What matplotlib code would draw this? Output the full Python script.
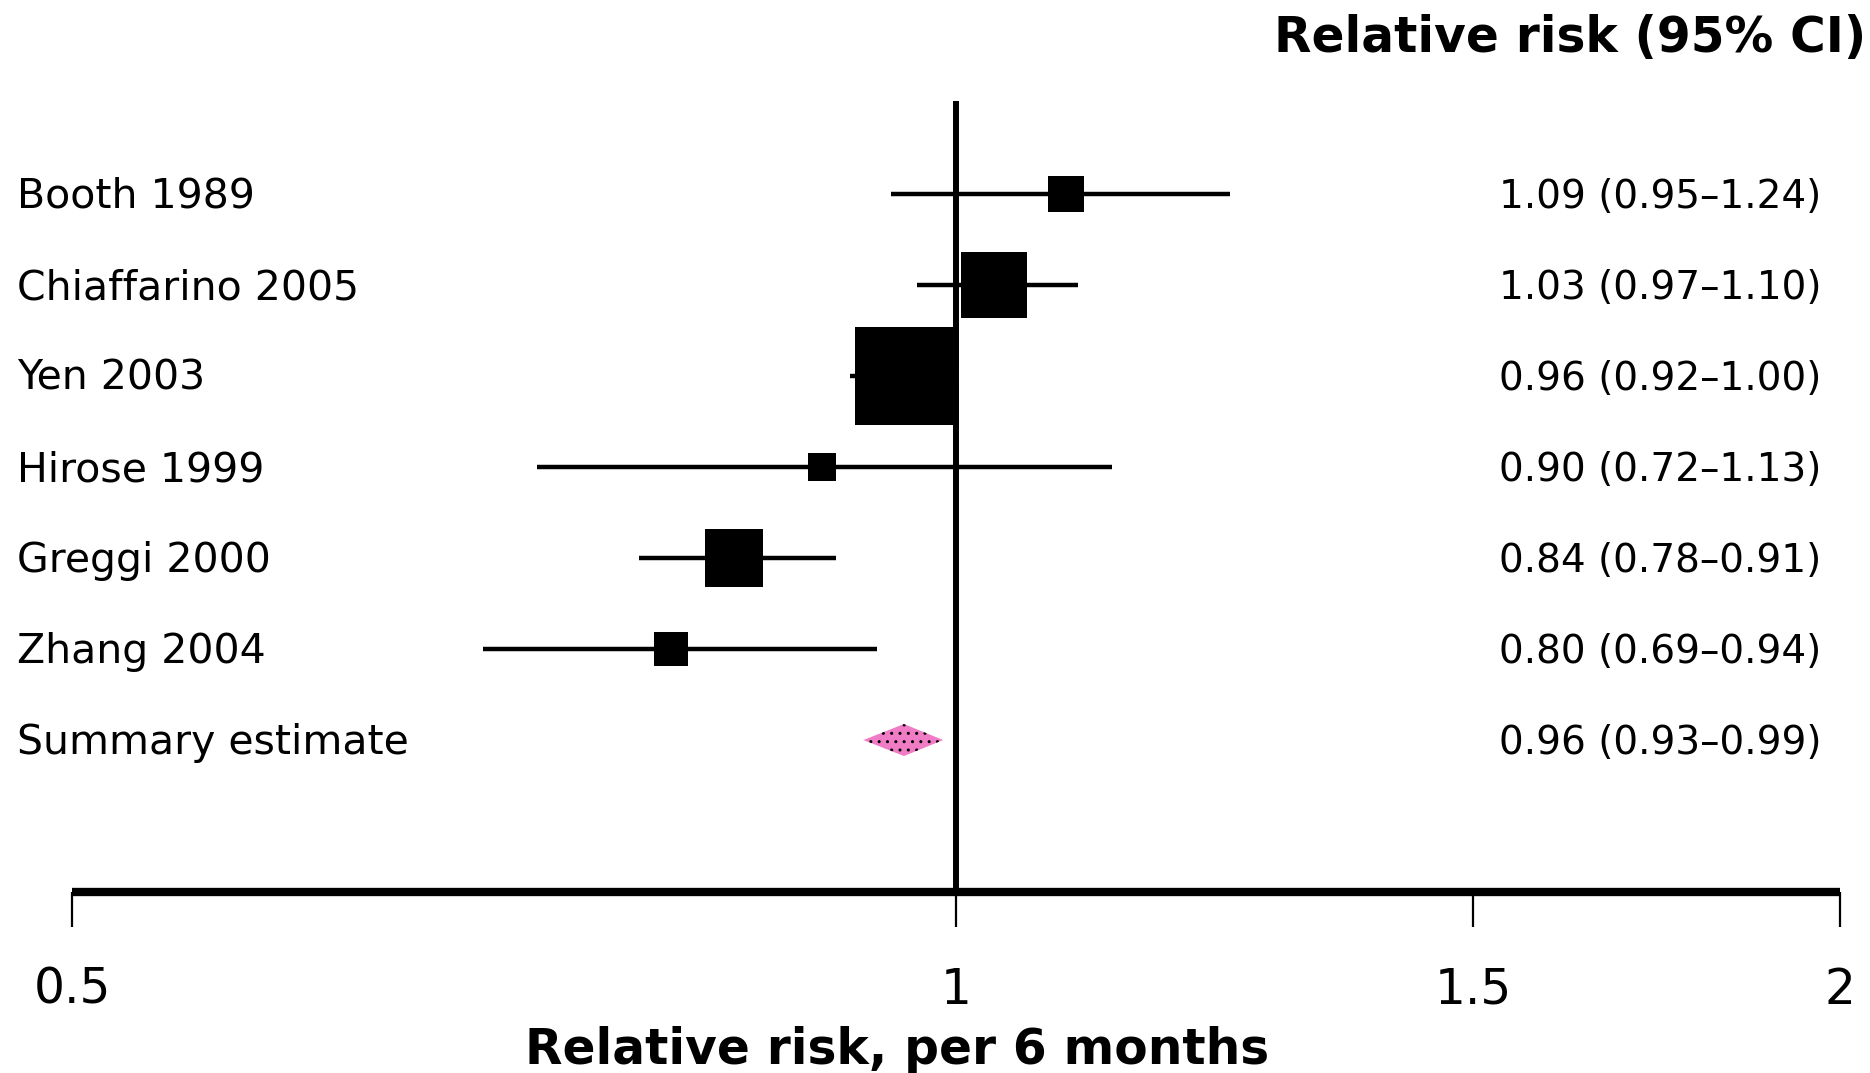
import numpy as np
import matplotlib.pyplot as plt
from matplotlib.patches import Polygon

# --- dados ---
estudos = ["Booth 1989", "Chiaffarino 2005", "Yen 2003", "Hirose 1999",
           "Greggi 2000", "Zhang 2004"]
rr = [1.09, 1.03, 0.96, 0.90, 0.84, 0.80]
ic_inf = [0.95, 0.97, 0.92, 0.72, 0.78, 0.69]
ic_sup = [1.24, 1.10, 1.00, 1.13, 0.91, 0.94]
# tamanho dos quadrados (peso do estudo), em pontos
peso = [26, 48, 70, 19.5, 42, 24]

resumo_rr = 0.96
resumo_inf = 0.93
resumo_sup = 0.99

ticks = [0.5, 1, 1.5, 2]
tick_labels = ["0.5", "1", "1.5", "2"]

plt.rcParams['font.family'] = ['DejaVu Sans']

fig = plt.figure(figsize=(18.7, 10.73), dpi=100)
ax = fig.add_axes([72 / 1870, 1 - 892 / 1073, (1840 - 72) / 1870, (892 - 101) / 1073])
ax.set_xscale('log')
ax.set_xlim(0.5, 2)
ax.set_ylim(7.67, -1.022)

n = len(estudos)
linhas = np.arange(n)

# intervalos de confiança e quadrados
for i in range(n):
    ax.plot([ic_inf[i], ic_sup[i]], [linhas[i], linhas[i]], color='black', lw=3.2,
            solid_capstyle='butt', zorder=2)
    ax.plot(rr[i], linhas[i], marker='s', markersize=peso[i], color='black',
            markeredgewidth=0, zorder=3)

# estimativa resumo (losango)
y_res = n
h = 0.176
losango = Polygon([[resumo_inf, y_res], [resumo_rr, y_res - h],
                   [resumo_sup, y_res], [resumo_rr, y_res + h]],
                  closed=True, facecolor='#f07cc6', edgecolor='black',
                  hatch='..', linewidth=0, zorder=3)
ax.add_patch(losango)

# linha de nulidade
ax.axvline(1, color='black', lw=4.3, zorder=1)

# eixos
for lado in ['left', 'top', 'right']:
    ax.spines[lado].set_visible(False)
ax.spines['bottom'].set_linewidth(6)
ax.spines['bottom'].set_capstyle('butt')
ax.set_yticks([])
ax.set_xticks(ticks)
ax.set_xticklabels(tick_labels)
ax.xaxis.set_minor_locator(plt.NullLocator())
ax.tick_params(axis='x', direction='out', length=25, width=1.6, pad=28,
               labelsize=35)

fig.text(897 / 1870, 1 - 1050 / 1073, "Relative risk, per 6 months", fontsize=35,
         fontweight='bold', ha='center', va='center')

# rótulos dos estudos e valores
rotulos = estudos + ["Summary estimate"]
textos = [f"{rr[i]:.2f} ({ic_inf[i]:.2f}\u2013{ic_sup[i]:.2f})" for i in range(n)]
textos.append(f"{resumo_rr:.2f} ({resumo_inf:.2f}\u2013{resumo_sup:.2f})")

for i, (r, t) in enumerate(zip(rotulos, textos)):
    yf = 1 - (197 + 91 * i) / 1073
    fig.text(17 / 1870, yf, r, fontsize=29.5, va='center', ha='left')
    fig.text(1499 / 1870, yf, t, fontsize=28, va='center', ha='left')

fig.text(1866 / 1870, 1 - 38 / 1073, "Relative risk (95% CI)", fontsize=35,
         fontweight='bold', ha='right', va='center')

fig.savefig("out.png", dpi=100)
